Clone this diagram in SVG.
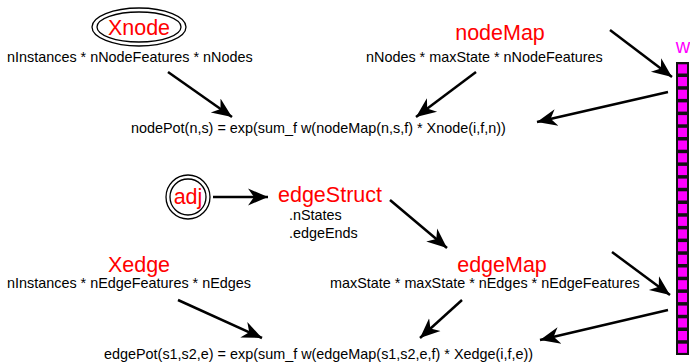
<svg xmlns="http://www.w3.org/2000/svg" width="690" height="363" viewBox="0 0 690 363">
  <style>
    text { font-family: "Liberation Sans", Arial, sans-serif; }
    .title { font-size: 21.5px; fill: #ff0000; text-anchor: middle; }
    .dim { font-size: 14.4px; fill: #000; }
    .formula { font-size: 14.4px; fill: #000; }
    .ring { fill: none; stroke: #000; stroke-width: 1.3; }
    .conn { fill: none; stroke: #000; stroke-width: 2.5; marker-end: url(#head); }
    .cell { fill: #ff00ff; }
  </style>
  <defs>
    <marker id="head" markerUnits="userSpaceOnUse" viewBox="-20 -10 22 20" refX="0" refY="0" markerWidth="22" markerHeight="20" orient="auto">
      <path d="M0,0 L-20,-8.5 L-14,0 L-20,8.5 Z" fill="#000"/>
    </marker>
  </defs>

  <rect width="690" height="363" fill="#fff"/>

  <g id="Xnode">
    <ellipse class="ring" cx="139" cy="27" rx="47" ry="19"/>
    <ellipse class="ring" cx="139" cy="27" rx="42" ry="15"/>
    <text class="title" x="139" y="35">Xnode</text>
    <text class="dim" x="7" y="62">nInstances * nNodeFeatures * nNodes</text>
  </g>

  <g id="nodeMap">
    <text class="title" x="500" y="40">nodeMap</text>
    <text class="dim" x="366" y="62">nNodes * maxState * nNodeFeatures</text>
  </g>

  <g id="nodePot">
    <text class="formula" x="131" y="133">nodePot(n,s) = exp(sum_f w(nodeMap(n,s,f) * Xnode(i,f,n))</text>
  </g>

  <g id="adj">
    <circle class="ring" cx="188" cy="197" r="22"/>
    <circle class="ring" cx="188" cy="197" r="18"/>
    <text class="title" x="188" y="204">adj</text>
  </g>

  <g id="edgeStruct">
    <text class="title" x="330" y="202">edgeStruct</text>
    <text class="dim" x="289" y="220">.nStates</text>
    <text class="dim" x="289" y="238">.edgeEnds</text>
  </g>

  <g id="Xedge">
    <text class="title" x="139" y="272">Xedge</text>
    <text class="dim" x="7" y="288">nInstances * nEdgeFeatures * nEdges</text>
  </g>

  <g id="edgeMap">
    <text class="title" x="502" y="272">edgeMap</text>
    <text class="dim" x="330" y="288">maxState * maxState * nEdges * nEdgeFeatures</text>
  </g>

  <g id="edgePot">
    <text class="formula" x="104" y="359">edgePot(s1,s2,e) = exp(sum_f w(edgeMap(s1,s2,e,f) * Xedge(i,f,e))</text>
  </g>

  <g id="w">
    <text x="683" y="53" font-size="20" fill="#ff00ff" text-anchor="middle">w</text>
    <rect x="676" y="62" width="13" height="293" fill="#111"/>
    <rect class="cell" x="678" y="64.3" width="9" height="9.2"/>
    <rect class="cell" x="678" y="77.0" width="9" height="9.2"/>
    <rect class="cell" x="678" y="89.7" width="9" height="9.2"/>
    <rect class="cell" x="678" y="102.4" width="9" height="9.2"/>
    <rect class="cell" x="678" y="115.1" width="9" height="9.2"/>
    <rect class="cell" x="678" y="127.8" width="9" height="9.2"/>
    <rect class="cell" x="678" y="140.5" width="9" height="9.2"/>
    <rect class="cell" x="678" y="153.2" width="9" height="9.2"/>
    <rect class="cell" x="678" y="165.9" width="9" height="9.2"/>
    <rect class="cell" x="678" y="178.6" width="9" height="9.2"/>
    <rect class="cell" x="678" y="191.3" width="9" height="9.2"/>
    <rect class="cell" x="678" y="204.0" width="9" height="9.2"/>
    <rect class="cell" x="678" y="216.7" width="9" height="9.2"/>
    <rect class="cell" x="678" y="229.4" width="9" height="9.2"/>
    <rect class="cell" x="678" y="242.1" width="9" height="9.2"/>
    <rect class="cell" x="678" y="254.8" width="9" height="9.2"/>
    <rect class="cell" x="678" y="267.5" width="9" height="9.2"/>
    <rect class="cell" x="678" y="280.2" width="9" height="9.2"/>
    <rect class="cell" x="678" y="292.9" width="9" height="9.2"/>
    <rect class="cell" x="678" y="305.6" width="9" height="9.2"/>
    <rect class="cell" x="678" y="318.3" width="9" height="9.2"/>
    <rect class="cell" x="678" y="331.0" width="9" height="9.2"/>
    <rect class="cell" x="678" y="343.7" width="9" height="9.2"/>
  </g>

  <g id="connectors">
    <line class="conn" x1="168" y1="72" x2="232" y2="117"/>
    <line class="conn" x1="476" y1="72" x2="416" y2="117"/>
    <line class="conn" x1="610" y1="30" x2="672" y2="77"/>
    <line class="conn" x1="668" y1="92" x2="537" y2="122"/>
    <line class="conn" x1="213" y1="197" x2="268" y2="197"/>
    <line class="conn" x1="390" y1="200" x2="447" y2="248"/>
    <line class="conn" x1="612" y1="252" x2="670" y2="295"/>
    <line class="conn" x1="668" y1="310" x2="540" y2="340"/>
    <line class="conn" x1="178" y1="300" x2="262" y2="338"/>
    <line class="conn" x1="462" y1="300" x2="420" y2="338"/>
  </g>
</svg>
